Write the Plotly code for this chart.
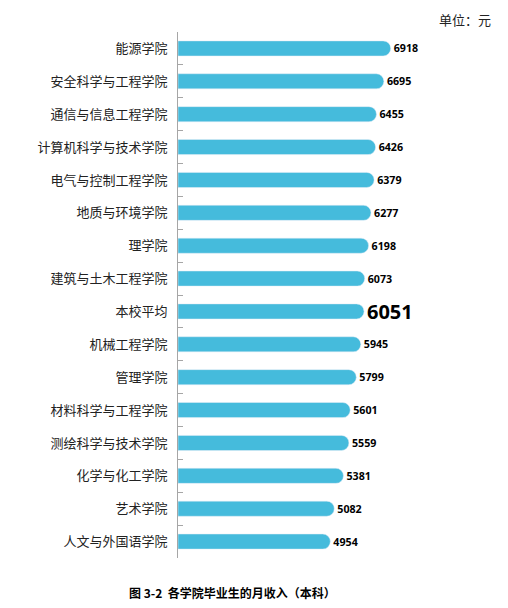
import plotly.graph_objects as go

colleges = ['能源学院', '安全科学与工程学院', '通信与信息工程学院', '计算机科学与技术学院',
            '电气与控制工程学院', '地质与环境学院', '理学院', '建筑与土木工程学院', '本校平均',
            '机械工程学院', '管理学院', '材料科学与工程学院', '测绘科学与技术学院',
            '化学与化工学院', '艺术学院', '人文与外国语学院']
income = [6918, 6695, 6455, 6426, 6379, 6277, 6198, 6073, 6051,
          5945, 5799, 5601, 5559, 5381, 5082, 4954]

avg_name = '本校平均'
avg_value = income[colleges.index(avg_name)]

# the school average gets its own, much larger label (added below)
labels = ['' if c == avg_name else str(v) for c, v in zip(colleges, income)]

fig = go.Figure()
fig.add_trace(go.Bar(
    x=income, y=colleges, orientation='h',
    marker=dict(color='#45BBDC', cornerradius='50%'),
    width=0.46,
    text=labels, textposition='outside', cliponaxis=False,
    textfont=dict(family='Open Sans', size=12, color='black', weight='bold'),
))

fig.update_layout(
    width=508, height=608,
    margin=dict(l=170, r=26, t=24, b=58),
    plot_bgcolor='white', paper_bgcolor='white',
    showlegend=False,
    font=dict(family='Noto Sans CJK SC', color='#222'),
    xaxis=dict(range=[0, 10146], visible=False),
    yaxis=dict(autorange='reversed', showline=True, linecolor='#A6A6A6', linewidth=1,
               ticks='inside', ticklen=5, tickcolor='#A6A6A6', tickson='boundaries',
               ticklabelstandoff=7, automargin=False,
               tickfont=dict(size=13, color='#222')),
)

fig.add_annotation(text='<b>%d</b>' % avg_value, x=avg_value, y=avg_name,
                   xanchor='left', yanchor='middle', xshift=1, showarrow=False,
                   font=dict(family='Open Sans', size=20, color='black'))
fig.add_annotation(text='单位：元', xref='paper', yref='paper', x=1.0, y=1.0,
                   xanchor='right', yanchor='bottom', xshift=3, yshift=1, showarrow=False,
                   font=dict(size=13, color='#222'))
fig.add_annotation(text='<b>图 3-2  各学院毕业生的月收入（本科）</b>', xref='paper', yref='paper',
                   x=0.176, y=0, xanchor='center', yanchor='top', yshift=-24, showarrow=False,
                   font=dict(size=12, color='black'))

fig.write_html("out.html")
